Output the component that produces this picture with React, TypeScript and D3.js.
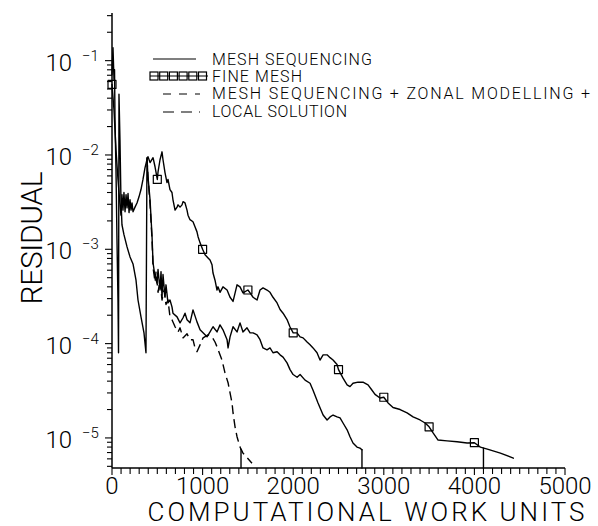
import React from "react";
import * as d3 from "d3";

type Pt = [number, number];

// Axis tick values
const xTickValues = [0, 1000, 2000, 3000, 4000, 5000];
const yDecadeExponents = [-1, -2, -3, -4, -5];

// Legend entries
const legendLabels = [
  "MESH SEQUENCING",
  "FINE MESH",
  "MESH SEQUENCING + ZONAL MODELLING +",
  "LOCAL SOLUTION",
];

// [computational work units, residual]
const meshSequencing: Pt[] = [
  [0, 7.1e-2], [11, 1.37e-1], [22, 6.3e-2], [28, 8.0e-2], [33, 2.37e-2], [44, 7.0e-3],
  [55, 1.26e-3], [66, 2.9e-4], [72, 8.0e-5], [77, 4.4e-2], [88, 1.45e-2], [99, 3.35e-3],
  [110, 1.82e-3], [132, 1.43e-3], [166, 1.06e-3], [199, 8.3e-4], [232, 7.0e-4], [265, 4.7e-4],
  [287, 2.9e-4], [320, 1.92e-4], [353, 1.3e-4], [375, 8.0e-5], [386, 9.35e-3], [397, 5.9e-3],
  [420, 3.35e-3], [442, 1.36e-3], [453, 7.2e-4], [475, 5.1e-4], [497, 4.4e-4], [508, 6.1e-4],
  [530, 3.7e-4], [541, 5.8e-4], [552, 3.1e-4], [563, 5.4e-4], [585, 3.1e-4], [596, 4.2e-4],
  [618, 2.7e-4], [640, 2.9e-4], [662, 2.45e-4], [673, 2.1e-4], [718, 1.92e-4], [751, 1.66e-4],
  [784, 1.88e-4], [806, 2.1e-4], [828, 1.79e-4], [861, 1.66e-4], [894, 2.28e-4], [938, 1.7e-4],
  [972, 1.4e-4], [1005, 1.3e-4], [1049, 1.18e-4], [1082, 1.33e-4], [1115, 1.51e-4], [1159, 1.33e-4],
  [1192, 1.58e-4], [1225, 1.4e-4], [1270, 1.1e-4], [1281, 9.0e-5], [1303, 1.18e-4], [1336, 1.51e-4],
  [1380, 1.33e-4], [1413, 1.66e-4], [1446, 1.33e-4], [1490, 1.47e-4], [1524, 1.3e-4], [1557, 1.3e-4],
  [1601, 1.24e-4], [1634, 1.1e-4], [1667, 9.0e-5], [1711, 8.6e-5], [1744, 9.0e-5], [1777, 8.0e-5],
  [1822, 8.2e-5], [1855, 7.6e-5], [1888, 7.2e-5], [1932, 6.25e-5], [1965, 5.3e-5], [1999, 4.7e-5],
  [2043, 4.4e-5], [2076, 4.7e-5], [2131, 4.1e-5], [2186, 3.8e-5], [2219, 3.2e-5], [2274, 2.35e-5],
  [2330, 1.75e-5], [2374, 1.55e-5], [2407, 1.67e-5], [2440, 1.75e-5], [2484, 1.67e-5], [2517, 1.63e-5],
  [2550, 1.44e-5], [2595, 1.22e-5], [2627, 1.03e-5], [2660, 8.85e-6], [2704, 8.0e-6], [2737, 7.8e-6],
  [2759, 7.5e-6],
];

const fineMesh: Pt[] = [
  [0, 5.6e-2], [22, 3.0e-2], [44, 1.14e-2], [66, 5.5e-3], [88, 3.0e-3], [99, 2.3e-3],
  [110, 3.8e-3], [121, 2.6e-3], [132, 4.0e-3], [144, 2.5e-3], [155, 3.8e-3], [166, 2.75e-3],
  [177, 3.9e-3], [188, 2.45e-3], [199, 3.35e-3], [210, 2.6e-3], [221, 3.1e-3], [232, 2.5e-3],
  [254, 2.8e-3], [276, 3.1e-3], [298, 3.6e-3], [320, 4.3e-3], [342, 5.5e-3], [364, 7.3e-3],
  [386, 8.9e-3], [397, 9.6e-3], [420, 8.3e-3], [453, 9.35e-3], [475, 7.5e-3], [500, 5.5e-3],
  [508, 6.6e-3], [530, 8.9e-3], [552, 1.08e-2], [563, 8.9e-3], [585, 6.5e-3], [607, 5.1e-3],
  [618, 5.5e-3], [640, 4.3e-3], [662, 4.0e-3], [673, 3.35e-3], [696, 2.6e-3], [718, 2.8e-3],
  [729, 2.96e-3], [751, 2.8e-3], [773, 2.96e-3], [784, 3.2e-3], [806, 3.1e-3], [828, 2.6e-3],
  [839, 2.3e-3], [861, 2.06e-3], [894, 1.96e-3], [916, 1.73e-3], [938, 1.53e-3], [950, 1.36e-3],
  [972, 1.17e-3], [1000, 1.0e-3], [1027, 8.75e-4], [1060, 8.1e-4], [1082, 7.7e-4], [1104, 6.85e-4],
  [1115, 5.6e-4], [1137, 4.7e-4], [1159, 3.7e-4], [1170, 4.0e-4], [1192, 3.5e-4], [1225, 4.0e-4],
  [1270, 3.7e-4], [1303, 3.1e-4], [1336, 2.8e-4], [1380, 4.2e-4], [1413, 4.0e-4], [1446, 3.45e-4],
  [1500, 3.7e-4], [1524, 3.45e-4], [1557, 3.1e-4], [1601, 2.9e-4], [1634, 3.7e-4], [1667, 3.9e-4],
  [1711, 3.7e-4], [1744, 3.5e-4], [1777, 3.1e-4], [1822, 2.7e-4], [1855, 2.3e-4], [1888, 2.1e-4],
  [1932, 1.8e-4], [1965, 1.5e-4], [2000, 1.3e-4], [2042, 1.3e-4], [2076, 1.18e-4], [2109, 1.15e-4],
  [2153, 1.04e-4], [2186, 9.7e-5], [2219, 9.0e-5], [2263, 8.0e-5], [2296, 6.7e-5], [2330, 7.6e-5],
  [2374, 7.6e-5], [2407, 7.1e-5], [2440, 6.7e-5], [2484, 6.0e-5], [2500, 5.3e-5], [2550, 4.3e-5],
  [2595, 3.65e-5], [2627, 3.5e-5], [2660, 3.8e-5], [2715, 3.9e-5], [2770, 3.9e-5], [2826, 3.65e-5],
  [2870, 3.2e-5], [2903, 2.9e-5], [2958, 2.65e-5], [3000, 2.7e-5], [3047, 2.35e-5], [3102, 2.1e-5],
  [3180, 2.0e-5], [3257, 1.84e-5], [3323, 1.67e-5], [3400, 1.55e-5], [3456, 1.44e-5], [3500, 1.31e-5],
  [3544, 1.13e-5], [3599, 9.5e-6], [3698, 9.3e-6], [3809, 9.1e-6], [3919, 8.85e-6], [4000, 8.9e-6],
  [4066, 8.0e-6], [4143, 7.6e-6], [4287, 6.9e-6], [4430, 6.1e-6],
];

const zonalLocal: Pt[] = [
  [386, 9.35e-3], [397, 5.9e-3], [420, 3.0e-3], [442, 1.26e-3], [453, 6.4e-4], [475, 4.5e-4],
  [486, 5.8e-4], [508, 3.5e-4], [530, 4.7e-4], [552, 2.9e-4], [574, 3.7e-4], [596, 2.6e-4],
  [618, 2.9e-4], [640, 1.92e-4], [662, 1.79e-4], [696, 1.51e-4], [729, 1.33e-4], [751, 1.47e-4],
  [784, 1.15e-4], [828, 1.27e-4], [861, 1.1e-4], [894, 1.1e-4], [916, 9.0e-5], [938, 8.2e-5],
  [972, 9.7e-5], [1005, 1.15e-4], [1060, 1.24e-4], [1104, 1.18e-4], [1137, 1.04e-4], [1159, 9.25e-5],
  [1192, 7.6e-5], [1214, 6.7e-5], [1247, 4.9e-5], [1281, 3.85e-5], [1303, 3.0e-5], [1325, 2.35e-5],
  [1336, 1.84e-5], [1358, 1.31e-5], [1380, 1.03e-5], [1413, 8.0e-6], [1424, 7.6e-6], [1446, 6.9e-6],
  [1545, 5.4e-6],
];

// Points where a run stops: a solid drop to the floor of the axis
const convergedDrops: Pt[] = [
  [1424, 7.6e-6],
  [2759, 7.5e-6],
  [4100, 7.8e-6],
];

const markerEvery = 500;

const W = 598;
const H = 526;
const FONT = "Roboto, 'Liberation Sans', sans-serif";

export default function App() {
  const x = d3.scaleLinear().domain([0, 5000]).range([112, 565]);
  const y = d3.scaleLog().domain([4.8e-6, 0.32]).range([468, 13]);
  const [x0, x1] = x.range();
  const [yBottom, yTop] = y.range();

  const line = d3
    .line<Pt>()
    .x((d) => x(d[0]))
    .y((d) => y(d[1]));

  const xMinor = d3.range(0, 5001, 100);

  const yTicks: { v: number; major: boolean }[] = [];
  for (let e = -6; e <= 0; e++) {
    for (let m = 1; m <= 9; m++) {
      const v = m * Math.pow(10, e);
      if (v >= y.domain()[0] && v <= y.domain()[1]) yTicks.push({ v, major: m === 1 });
    }
  }

  const markers = fineMesh.filter((d) => d[0] % markerEvery === 0);
  const sq = 8;

  const legendX = 212;
  const legendBase = [65, 82, 99, 117];
  const legendLen = [160, 90, 378, 135];

  return (
    <svg
      width={W}
      height={H}
      viewBox={`0 0 ${W} ${H}`}
      style={{ position: "absolute", left: 0, top: 0, background: "#fff" }}
    >
      <rect width={W} height={H} fill="#fff" />

      {/* axes */}
      <line x1={x0} x2={x0} y1={yTop} y2={yBottom} stroke="#000" strokeWidth={1.5} />
      <line x1={x0} x2={x1} y1={yBottom} y2={yBottom} stroke="#000" strokeWidth={1.5} />

      {xMinor.map((v) => (
        <line
          key={"xt" + v}
          x1={x(v)}
          x2={x(v)}
          y1={yBottom}
          y2={yBottom + (v % 1000 === 0 ? 7 : 6)}
          stroke="#000"
          strokeWidth={1.1}
        />
      ))}
      {yTicks.map((t, i) => (
        <line
          key={"yt" + i}
          x1={x0 - (t.major ? 7 : 5)}
          x2={x0}
          y1={y(t.v)}
          y2={y(t.v)}
          stroke="#000"
          strokeWidth={1.1}
        />
      ))}

      {xTickValues.map((v) => (
        <text
          key={"xl" + v}
          x={x(v)}
          y={494}
          textAnchor="middle"
          fontFamily={FONT}
          fontWeight={300}
          fontSize={24}
          fill="#000"
        >
          {v}
        </text>
      ))}
      {yDecadeExponents.map((e) => {
        const ty = y(Math.pow(10, e));
        return (
          <g key={"yl" + e} fontFamily={FONT} fontWeight={300} fill="#000">
            <text x={72} y={ty + 10} textAnchor="end" fontSize={24}>
              10
            </text>
            <text x={82} y={ty} fontSize={15}>
              {"\u2212" + Math.abs(e)}
            </text>
          </g>
        );
      })}

      <text
        x={366}
        y={521}
        textAnchor="middle"
        fontFamily={FONT}
        fontWeight={300}
        fontSize={26}
        textLength={437}
        fill="#000"
      >
        COMPUTATIONAL WORK UNITS
      </text>
      <text
        transform="translate(42,238) rotate(-90)"
        textAnchor="middle"
        fontFamily={FONT}
        fontWeight={300}
        fontSize={30}
        textLength={133}
        fill="#000"
      >
        RESIDUAL
      </text>

      {/* curves */}
      <g fill="none" stroke="#000" strokeLinejoin="round" strokeLinecap="round">
        <path d={line(fineMesh) ?? ""} strokeWidth={1.4} />
        <path d={line(meshSequencing) ?? ""} strokeWidth={1.4} />
        <path d={line(zonalLocal) ?? ""} strokeWidth={1.4} strokeDasharray="9 5" strokeLinecap="butt" />
        {convergedDrops.map((d, i) => (
          <line key={"cd" + i} x1={x(d[0])} x2={x(d[0])} y1={y(d[1])} y2={yBottom} strokeWidth={1.4} />
        ))}
        {markers.map((d, i) => (
          <rect
            key={"mk" + i}
            x={x(d[0]) - sq / 2}
            y={y(d[1]) - sq / 2}
            width={sq}
            height={sq}
            strokeWidth={1.2}
          />
        ))}
      </g>

      {/* legend */}
      <g stroke="#000" fill="none" strokeWidth={1.2}>
        <line x1={153} x2={196} y1={legendBase[0] - 6} y2={legendBase[0] - 6} />
        <line x1={150} x2={208} y1={legendBase[1] - 6} y2={legendBase[1] - 6} />
        {d3.range(6).map((i) => (
          <rect key={"ls" + i} x={150 + i * 9.7} y={legendBase[1] - 10} width={8} height={8} />
        ))}
        <line x1={163} x2={200} y1={legendBase[2] - 5} y2={legendBase[2] - 5} strokeDasharray="8 8" />
        <line x1={163} x2={200} y1={legendBase[3] - 5} y2={legendBase[3] - 5} strokeDasharray="11 7" />
      </g>
      {legendLabels.map((t, i) => (
        <text
          key={"lg" + i}
          x={legendX}
          y={legendBase[i]}
          fontFamily={FONT}
          fontWeight={300}
          fontSize={16}
          textLength={legendLen[i]}
          fill="#000"
        >
          {t}
        </text>
      ))}
    </svg>
  );
}
